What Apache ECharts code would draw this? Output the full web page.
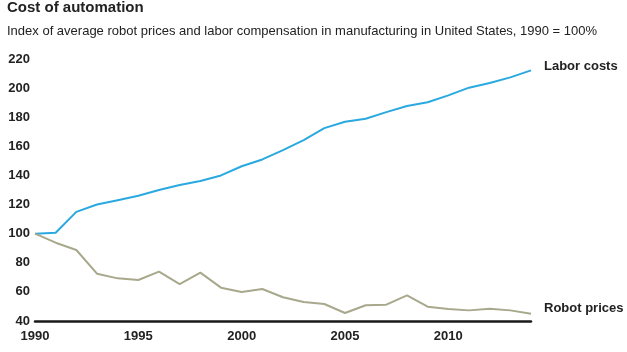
<!DOCTYPE html>
<html>
<head>
<meta charset="utf-8">
<script src="https://cdn.jsdelivr.net/npm/echarts@6/dist/echarts.min.js"></script>
<style>
  html, body { margin: 0; padding: 0; background: #fff; }
  #chart { width: 627px; height: 352px; }
</style>
</head>
<body>
<div id="chart"></div>
<script>
// index values, 1990 = 100
var years = [1990, 1991, 1992, 1993, 1994, 1995, 1996, 1997, 1998, 1999, 2000, 2001, 2002,
             2003, 2004, 2005, 2006, 2007, 2008, 2009, 2010, 2011, 2012, 2013, 2014];
var laborCosts = [100, 100.6, 115, 120, 123, 126, 130, 133.4, 136.2, 140, 146.3, 151, 157.4,
                  164.3, 172.5, 176.9, 179, 183.5, 187.7, 190.3, 195, 200.3, 203.5, 207.4, 212.2];
var robotPrices = [100, 93.8, 88.8, 72.5, 69.3, 68.2, 73.9, 65.4, 73.2, 62.9, 59.9, 62, 56.3,
                   53, 51.7, 45.5, 50.8, 51.2, 57.6, 49.8, 48.2, 47.3, 48.4, 47.3, 45];
var yTicks = { min: 40, max: 220, step: 20 };

function pairs(vals) {
  return years.map(function (y, i) { return [y, vals[i]]; });
}

var chart = echarts.init(document.getElementById('chart'));

var fontFam = '"Liberation Sans", Arial, sans-serif';

chart.setOption({
  animation: false,
  title: [
    { text: 'Cost of automation', left: 7, top: 0, padding: 0,
      textStyle: { fontFamily: fontFam, fontSize: 15, fontWeight: 'bold', color: '#222' } },
    { text: 'Index of average robot prices and labor compensation in manufacturing in United States, 1990 = 100%',
      left: 7, top: 25, padding: 0,
      textStyle: { fontFamily: fontFam, fontSize: 13, fontWeight: 'normal', color: '#222' } }
  ],
  grid: { left: 35, right: 96, top: 59, bottom: 31, containLabel: false },
  xAxis: {
    type: 'value', min: 1990, max: 2014, interval: 5,
    axisLine: { show: true, onZero: false, lineStyle: { color: '#1a1a1a', width: 2.5 } },
    axisTick: { show: false },
    splitLine: { show: false },
    axisLabel: {
      showMaxLabel: false, margin: 9,
      fontFamily: fontFam, fontSize: 13, fontWeight: 'bold', color: '#222',
      formatter: function (v) { return String(v); }
    }
  },
  yAxis: {
    type: 'value', min: yTicks.min, max: yTicks.max, interval: yTicks.step,
    axisLine: { show: false },
    axisTick: { show: false },
    splitLine: { show: false },
    axisLabel: { margin: 5, fontFamily: fontFam, fontSize: 13, fontWeight: 'bold', color: '#222' }
  },
  series: [
    {
      name: 'Labor costs', type: 'line', data: pairs(laborCosts),
      symbol: 'none', lineStyle: { color: '#2aa9e0', width: 2 },
      endLabel: { show: true, formatter: '{a}', distance: 13, offset: [0, -4],
        fontFamily: fontFam, fontSize: 13, fontWeight: 'bold', color: '#222' }
    },
    {
      name: 'Robot prices', type: 'line', data: pairs(robotPrices),
      symbol: 'none', lineStyle: { color: '#a8a88c', width: 2 },
      endLabel: { show: true, formatter: '{a}', distance: 13, offset: [0, -5],
        fontFamily: fontFam, fontSize: 13, fontWeight: 'bold', color: '#222' }
    }
  ]
});
</script>
</body>
</html>
